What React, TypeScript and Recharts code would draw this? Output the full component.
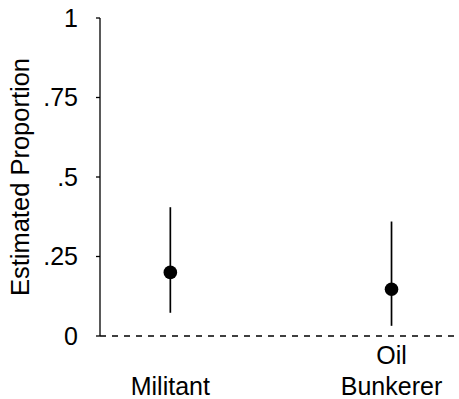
import { ComposedChart, Scatter, ErrorBar, XAxis, YAxis, ReferenceLine, Label } from "recharts"

const categories = ["Militant", "Oil Bunkerer"]
const estimates = [0.2, 0.147]
const lowerBounds = [0.073, 0.032]
const upperBounds = [0.405, 0.36]
const yTicks = [0, 0.25, 0.5, 0.75, 1]

const FONT = '"Liberation Sans", Arial, Helvetica, sans-serif'

const data = categories.map((name, i) => ({
  x: i + 1,
  name,
  est: estimates[i],
  err: [estimates[i] - lowerBounds[i], upperBounds[i] - estimates[i]],
}))

function fmtY(v: number) {
  if (v === 0) return "0"
  if (v === 1) return "1"
  return String(v).replace(/^0/, "")
}

function CategoryTick(props: any) {
  const { x, y, payload } = props
  const label = categories[Math.round(payload.value) - 1] ?? ""
  const lines = label.split(" ")
  const n = lines.length
  return (
    <g>
      {lines.map((line, i) => (
        <text
          key={i}
          x={x}
          y={y + 59 - 31 * (n - 1 - i)}
          textAnchor="middle"
          fontSize={25}
          fontFamily={FONT}
          fill="#000"
        >
          {line}
        </text>
      ))}
    </g>
  )
}

function YLabel(props: any) {
  const vb = props.viewBox
  const cy = vb.y + vb.height / 2
  const cx = 29
  return (
    <text
      x={cx}
      y={cy}
      transform={`rotate(-90, ${cx}, ${cy})`}
      textAnchor="middle"
      fontSize={25.5}
      fontFamily={FONT}
      fill="#000"
    >
      Estimated Proportion
    </text>
  )
}

export default function App() {
  return (
    <div style={{ position: "absolute", left: 0, top: 0, background: "#fff" }}>
      <ComposedChart
        width={459}
        height={399}
        data={data}
        margin={{ top: 18, right: 4, left: 0, bottom: 0 }}
      >
        <XAxis
          type="number"
          dataKey="x"
          domain={[0.682, 2.287]}
          allowDataOverflow
          ticks={[1, 2]}
          axisLine={false}
          tickLine={false}
          tickSize={0}
          tickMargin={0}
          height={63}
          tick={<CategoryTick />}
        />
        <YAxis
          type="number"
          domain={[0, 1]}
          ticks={yTicks}
          tickFormatter={fmtY}
          width={100}
          tickSize={4}
          tickMargin={18}
          axisLine={{ stroke: "#000", strokeWidth: 1.3 }}
          tickLine={{ stroke: "#000", strokeWidth: 1.3 }}
          tick={{ fill: "#000", fontSize: 25, fontFamily: FONT }}
        >
          <Label content={<YLabel />} />
        </YAxis>
        <ReferenceLine y={0} stroke="#000" strokeWidth={1.5} strokeDasharray="6 6" />
        <Scatter
          dataKey="est"
          isAnimationActive={false}
          shape={(p: any) => <circle cx={p.cx} cy={p.cy} r={6.8} fill="#000" />}
        >
          <ErrorBar dataKey="err" direction="y" width={0} stroke="#000" strokeWidth={1.7} />
        </Scatter>
      </ComposedChart>
    </div>
  )
}
